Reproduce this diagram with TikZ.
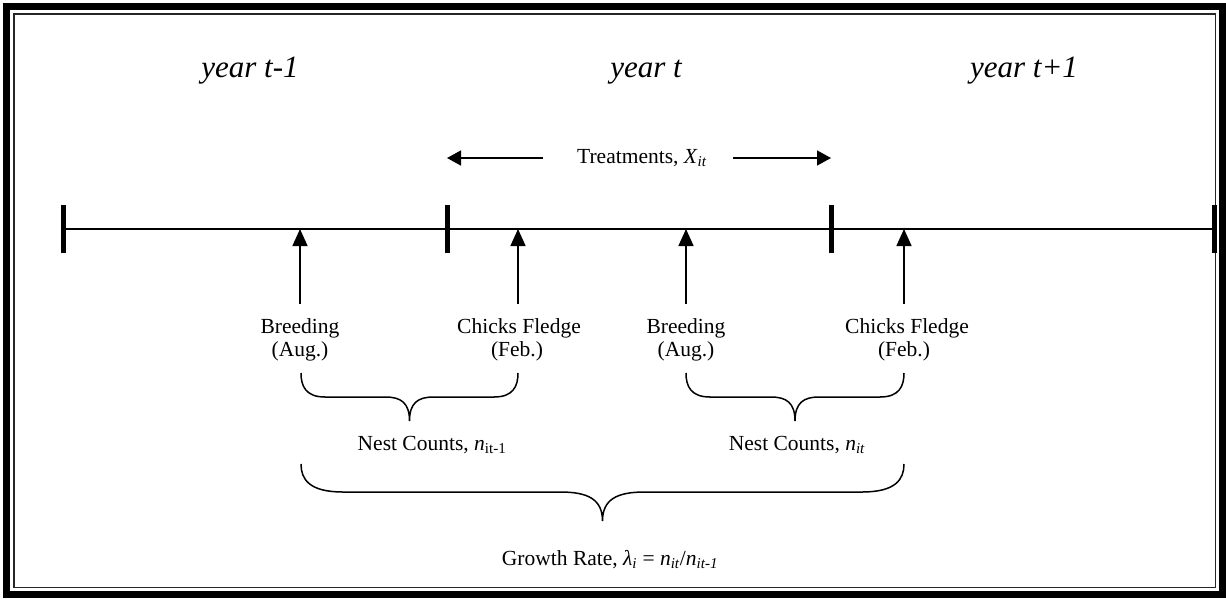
\documentclass[tikz,border=0pt]{standalone}
\usepackage{fontspec}
\setmainfont{Liberation Serif}
\usetikzlibrary{arrows.meta}
\newcommand\curlybrace[6]{%
  \pgfmathsetmacro\xm{(#1+#2)/2}%
  \pgfmathsetmacro\xal{#1+#6}%
  \pgfmathsetmacro\xbl{#2-#6}%
  \pgfmathsetmacro\xml{\xm-#6}%
  \pgfmathsetmacro\xmr{\xm+#6}%
  \pgfmathsetmacro\xmlc{\xm-0.35*#6}%
  \pgfmathsetmacro\xmrc{\xm+0.35*#6}%
  \pgfmathsetmacro\ymc{#4+0.25*(#5-#4)}%
  \pgfmathsetmacro\yca{#3+0.55*(#4-#3)}%
  \pgfmathsetmacro\xca{#1+0.2*#6}%
  \pgfmathsetmacro\xcb{#2-0.2*#6}%
  \draw[bracestyle] (#1,#3) .. controls (#1,\yca) and (\xca,#4) .. (\xal,#4) -- (\xml,#4)
     .. controls (\xmlc,#4) and (\xm,\ymc) .. (\xm,#5)
     .. controls (\xm,\ymc) and (\xmrc,#4) .. (\xmr,#4) -- (\xbl,#4)
     .. controls (\xcb,#4) and (#2,\yca) .. (#2,#3);}
\begin{document}
\begin{tikzpicture}[x=1pt,y=-1pt,
  lbl/.style={font=\fontsize{21.5}{24}\selectfont, inner sep=0pt, anchor=base},
  yr/.style={font=\fontsize{31}{34}\selectfont\itshape, inner sep=0pt, anchor=base},
  upar/.style={line width=1.5pt, -{Triangle[length=17pt,width=15pt]}},
  trar/.style={line width=1.5pt, -{Triangle[length=14pt,width=15pt]}},
  tickmark/.style={line width=5pt},
  bracestyle/.style={line width=1.5pt},
  axisline/.style={line width=1.5pt}]
\useasboundingbox (0,0) rectangle (1226,598);
% frame
\draw[line width=7pt] (6.5,6.5) rectangle (1222.5,594.5);
\draw[line width=1.6pt, black!85] (14,14) rectangle (1215.5,587.5);
% year labels
\node[yr] (y1) at (250,77) {year t-1};
\node[yr] (y2) at (646,77) {year t};
\node[yr] (y3) at (1024,77) {year t+1};
% treatments
\node[lbl] (tr) at (642,163) {Treatments, \textit{X}\textsubscript{\textit{it}}};
\coordinate (tla) at (543,158);
\coordinate (tlb) at (447,158);
\coordinate (tra) at (733,158);
\coordinate (trb) at (831,158);
\draw[trar] (tla) -- (tlb);
\draw[trar] (tra) -- (trb);
% timeline
\coordinate (L0) at (63,229);
\coordinate (L3) at (1214,229);
\draw[axisline] (L0) -- (L3);
\foreach \x in {63,447,831,1214} \draw[tickmark] (\x,205) -- (\x,253);
% event labels
\node[lbl] (b1) at (300,333) {Breeding};
\node[lbl] (b1m) at (300,356) {(Aug.)};
\node[lbl] (c1) at (519,333) {Chicks Fledge};
\node[lbl] (c1m) at (517,356) {(Feb.)};
\node[lbl] (b2) at (686,333) {Breeding};
\node[lbl] (b2m) at (686,356) {(Aug.)};
\node[lbl] (c2) at (907,333) {Chicks Fledge};
\node[lbl] (c2m) at (904,356) {(Feb.)};
\coordinate (p1) at (300,229);
\coordinate (p2) at (518,229);
\coordinate (p3) at (686,229);
\coordinate (p4) at (904,229);
\coordinate (q1) at (300,304);
\coordinate (q2) at (518,304);
\coordinate (q3) at (686,304);
\coordinate (q4) at (904,304);
\draw[upar] (q1) -- (p1);
\draw[upar] (q2) -- (p2);
\draw[upar] (q3) -- (p3);
\draw[upar] (q4) -- (p4);
% braces
\curlybrace{301}{518}{373}{397}{421}{24}
\curlybrace{686}{904}{373}{397}{421}{24}
\curlybrace{301}{904}{464}{492}{521}{42}
% counts
\node[lbl] (n1) at (432,450) {Nest Counts, \textit{n}\textsubscript{it-1}};
\node[lbl] (n2) at (797,450) {Nest Counts, \textit{n}\textsubscript{\textit{it}}};
\node[lbl] (gr) at (610,565) {Growth Rate, \textit{λ}\textsubscript{\textit{i}} = \textit{n}\textsubscript{\textit{it}}/\textit{n}\textsubscript{\textit{it-1}}};
\end{tikzpicture}
\end{document}
